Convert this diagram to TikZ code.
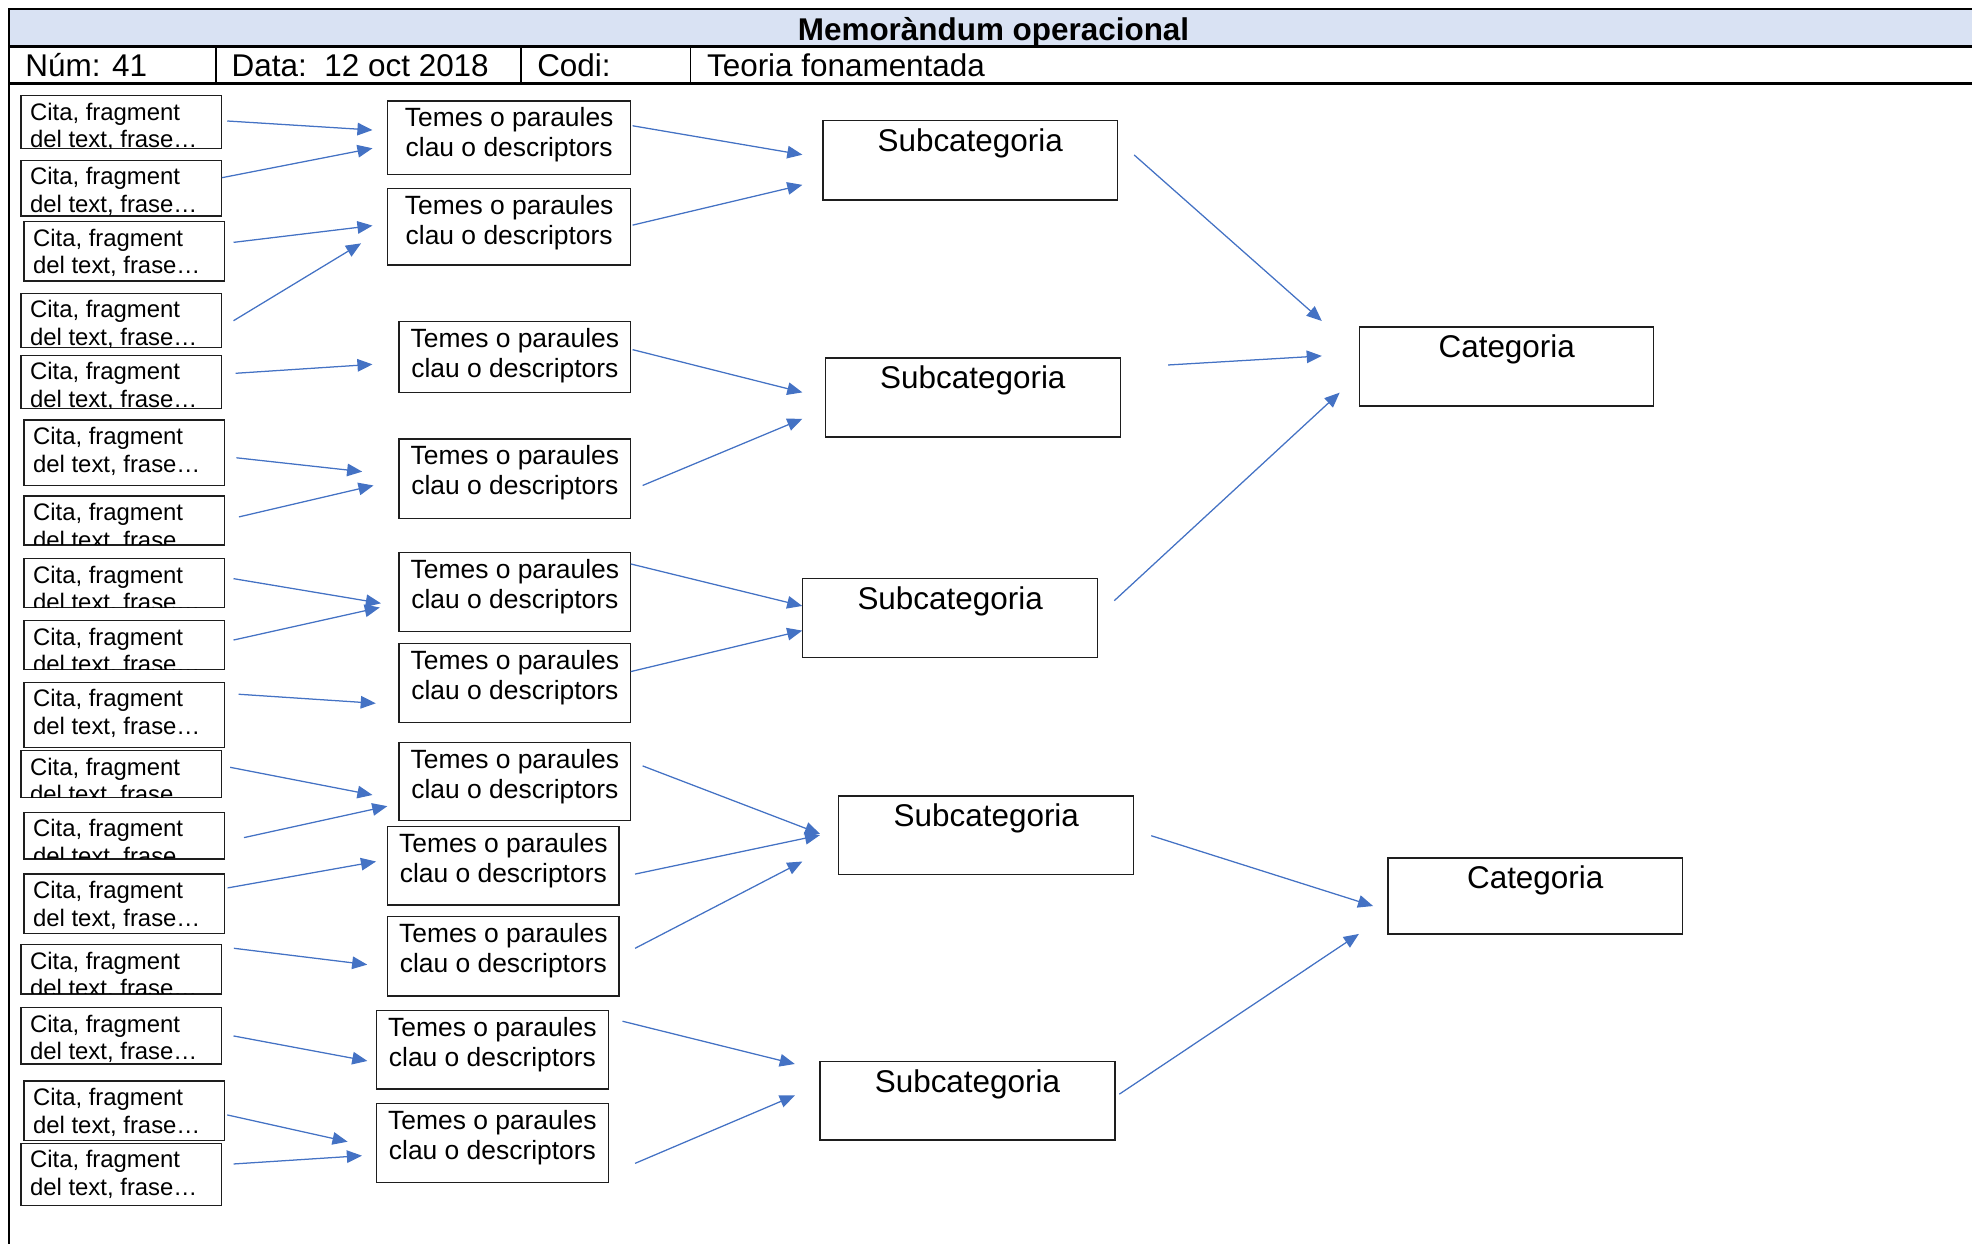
\documentclass[tikz,border=0pt]{standalone}
\usepackage{fontspec}
\setmainfont{Liberation Sans}
\usetikzlibrary{arrows.meta}

\definecolor{bandblue}{HTML}{D9E2F3}
\definecolor{flowblue}{HTML}{4472C4}
\definecolor{boxline}{HTML}{1E1E1E}

\tikzset{
  frame/.style={line width=2pt, black},
  sideframe/.style={line width=1.6pt, black},
  cellbox/.style={draw=boxline, line width=1pt, inner sep=0pt, outer sep=0pt, anchor=north west},
  quotetext/.style={inner sep=0pt, anchor=base west, font=\fontsize{19}{22}\selectfont},
  themetext/.style={inner sep=0pt, anchor=base, font=\fontsize{21}{24}\selectfont},
  cattext/.style={inner sep=0pt, anchor=base, font=\fontsize{25}{28}\selectfont},
  headtext/.style={inner sep=0pt, anchor=base west, font=\fontsize{25}{28}\selectfont},
  titletext/.style={inner sep=0pt, anchor=base, font=\fontsize{25}{28}\selectfont\bfseries},
  flow/.style={draw=flowblue, line width=1pt, -{Triangle[length=12pt,width=10pt]}, fill=flowblue},
}

% quotation box: text is clipped by the frame
\newcommand\quotecell[5]{%
  \node[cellbox, minimum width={#4-#2}, minimum height={#5-#3}] (#1) at (#2,#3) {};
  \begin{scope}
    \clip (#1.north west) rectangle (#1.south east);
    \node[quotetext] (#1-l1) at ([xshift=7pt,yshift=-19.5pt]#1.north west) {Cita, fragment};
    \node[quotetext] (#1-l2) at ([xshift=7pt,yshift=-41.5pt]#1.north west) {del text, frase…};
  \end{scope}
}
% theme / keyword box
\newcommand\themecell[5]{%
  \node[cellbox, minimum width={#4-#2}, minimum height={#5-#3}] (#1) at (#2,#3) {};
  \node[themetext] (#1-l1) at ([yshift=-20.5pt]#1.north) {Temes o paraules};
  \node[themetext] (#1-l2) at ([yshift=-44.5pt]#1.north) {clau o descriptors};
}
% subcategory / category box with its label near the top
\newcommand\labelcell[6]{%
  \node[cellbox, minimum width={#4-#2}, minimum height={#5-#3}] (#1) at (#2,#3) {};
  \node[cattext] (#1-l1) at ([yshift=-24.5pt]#1.north) {#6};
}

\begin{document}
\begin{tikzpicture}[x=1pt, y=-1pt]
\useasboundingbox (0,0) rectangle (1568,989);

% ---- header ----
\fill[bandblue] (7.4,7) rectangle (1568,37);
\draw[frame] (6.6,7) -- (1568,7);
\draw[frame] (6.6,37) -- (1568,37);
\draw[frame] (6.6,66.5) -- (1568,66.5);
\draw[sideframe] (7.4,7) -- (7.4,989);
\draw[line width=1.4pt] (171.5,37) -- (171.5,66.5);
\draw[line width=1.4pt] (414,37) -- (414,66.5);
\draw[line width=1.4pt] (549,37) -- (549,66.5);

\node[titletext] (title) at (790,32.5) {Memoràndum operacional};
\node[headtext] (num) at (20,60.5) {Núm: 41};
\node[headtext] (data) at (184,60.5) {Data:\hspace{14pt}12 oct 2018};
\node[headtext] (codi) at (427,60.5) {Codi:};
\node[headtext] (teoria) at (562,60.5) {Teoria fonamentada};

% ---- quotations ----
\quotecell{q1}{16.7}{76.1}{176.4}{117.9}
\quotecell{q2}{16.7}{127.5}{176.4}{171.7}
\quotecell{q3}{19.1}{176.3}{178.7}{223.4}
\quotecell{q4}{16.7}{233.2}{176.4}{276.2}
\quotecell{q5}{16.7}{282.5}{176.4}{325}
\quotecell{q6}{19.1}{334}{178.7}{386}
\quotecell{q7}{19.1}{394.4}{178.7}{433.3}
\quotecell{q8}{19.1}{444.2}{178.7}{482.9}
\quotecell{q9}{19.1}{493.5}{178.7}{532.2}
\quotecell{q10}{19.1}{542.5}{178.7}{594.2}
\quotecell{q11}{16.7}{596.9}{176.4}{634}
\quotecell{q12}{19.1}{646}{178.7}{683}
\quotecell{q13}{19.1}{695}{178.7}{742}
\quotecell{q14}{16.7}{751}{176.4}{790.3}
\quotecell{q15}{16.7}{801.2}{176.4}{846}
\quotecell{q16}{19.1}{859.5}{178.7}{906.7}
\quotecell{q17}{16.7}{909}{176.4}{958.4}

% ---- themes ----
\themecell{t1}{308.2}{80.3}{501.6}{138.9}
\themecell{t2}{308.2}{149.7}{501.6}{210.7}
\themecell{t3}{317.2}{255.5}{501.6}{312}
\themecell{t4}{317.2}{349}{501.6}{412}
\themecell{t5}{317.2}{439.4}{501.6}{502.2}
\themecell{t6}{317.2}{511.5}{501.6}{574.3}
\themecell{t7}{317.2}{590.2}{501.6}{652.5}
\themecell{t8}{308.2}{657}{492.2}{719.5}
\themecell{t9}{308.2}{729}{492.2}{791.9}
\themecell{t10}{299.5}{803.6}{483.6}{865.9}
\themecell{t11}{299.5}{877.5}{483.6}{940.1}

% ---- subcategories ----
\labelcell{s1}{654.4}{96}{888.5}{159}{Subcategoria}
\labelcell{s2}{656.3}{284.7}{890.8}{347.5}{Subcategoria}
\labelcell{s3}{638.2}{459.8}{872.8}{522.6}{Subcategoria}
\labelcell{s4}{667}{633}{901.5}{695.5}{Subcategoria}
\labelcell{s5}{652}{844}{886.5}{906.5}{Subcategoria}

% ---- categories ----
\labelcell{k1}{1081.2}{260}{1314.9}{322.8}{Categoria}
\labelcell{k2}{1103.6}{682.2}{1337.8}{742.6}{Categoria}

% ---- arrow end points ----
% quotations -> themes
\coordinate (a1-s) at (180.7,96.2);   \coordinate (a1-e) at (296.2,103.4);
\coordinate (a2-s) at (176.4,141.3);  \coordinate (a2-e) at (296.2,117.9);
\coordinate (a3-s) at (185.7,192.7);  \coordinate (a3-e) at (296.2,179.4);
\coordinate (a4-s) at (185.7,255);    \coordinate (a4-e) at (287.1,193.5);
\coordinate (a5-s) at (187.4,296.8);  \coordinate (a5-e) at (296.2,289.7);
\coordinate (a6-s) at (188,364);      \coordinate (a6-e) at (288,375);
\coordinate (a7-s) at (190,411);      \coordinate (a7-e) at (297,386);
\coordinate (a8-s) at (185.7,460.1);  \coordinate (a8-e) at (302.9,479.7);
\coordinate (a9-s) at (185.7,508.9);  \coordinate (a9-e) at (302,483);
\coordinate (a10-s) at (189.7,552);   \coordinate (a10-e) at (298.8,559.2);
\coordinate (a11-s) at (183,610.1);   \coordinate (a11-e) at (296.2,632.1);
\coordinate (a12-s) at (194,666);     \coordinate (a12-e) at (308,641);
\coordinate (a13-s) at (181,706);     \coordinate (a13-e) at (299,685);
\coordinate (a14-s) at (186,754);     \coordinate (a14-e) at (292,767);
\coordinate (a15-s) at (185.7,823.7); \coordinate (a15-e) at (292.1,843.6);
\coordinate (a16-s) at (180.7,886.5); \coordinate (a16-e) at (276.4,907.8);
\coordinate (a17-s) at (185.7,925.5); \coordinate (a17-e) at (287.8,918.9);
% themes -> subcategories
\coordinate (b1-s) at (503,100);      \coordinate (b1-e) at (638,123);
\coordinate (b2-s) at (503,179);      \coordinate (b2-e) at (638,147);
\coordinate (b3-s) at (503,278);      \coordinate (b3-e) at (638,312);
\coordinate (b4-s) at (511,386);      \coordinate (b4-e) at (638,333);
\coordinate (b5-s) at (501.5,448.4);  \coordinate (b5-e) at (637.9,481.8);
\coordinate (b6-s) at (501.5,534);    \coordinate (b6-e) at (637.9,501.4);
\coordinate (b7-s) at (511,609);      \coordinate (b7-e) at (652,663);
\coordinate (b8-s) at (505,695);      \coordinate (b8-e) at (652,664);
\coordinate (b9-s) at (505,754);      \coordinate (b9-e) at (638,685);
\coordinate (b10-s) at (495,812);     \coordinate (b10-e) at (632,846);
\coordinate (b11-s) at (505,925);     \coordinate (b11-e) at (632,871);
% subcategories -> categories
\coordinate (c1-s) at (901.8,123.2);  \coordinate (c1-e) at (1051,255.2);
\coordinate (c2-s) at (928.8,290.2);  \coordinate (c2-e) at (1051,283);
\coordinate (c3-s) at (886,477.6);    \coordinate (c3-e) at (1065.2,312.2);
\coordinate (c4-s) at (915.4,664.5);  \coordinate (c4-e) at (1091.8,720.4);
\coordinate (c5-s) at (890,870);      \coordinate (c5-e) at (1080.5,742.6);

\foreach \n in {a1,a2,a3,a4,a5,a6,a7,a8,a9,a10,a11,a12,a13,a14,a15,a16,a17,
                b1,b2,b3,b4,b5,b6,b7,b8,b9,b10,b11,c1,c2,c3,c4,c5}
  \draw[flow] (\n-s) -- (\n-e);

\end{tikzpicture}
\end{document}
